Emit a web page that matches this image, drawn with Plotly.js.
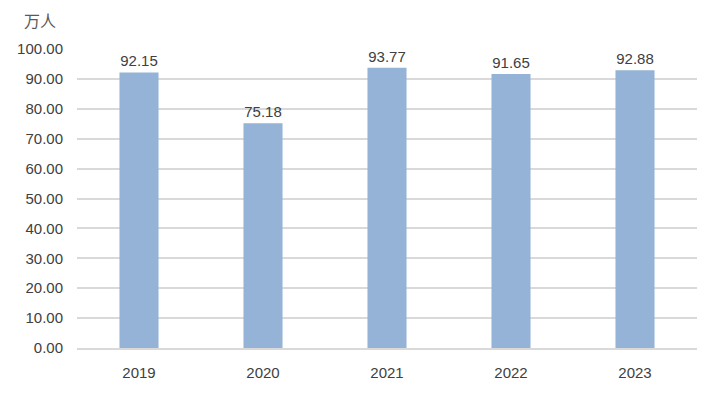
<!DOCTYPE html>
<html><head><meta charset="utf-8">
<script src="https://cdn.plot.ly/plotly-3.0.1.min.js"></script>
<style>body{margin:0;background:#fff}#c{width:720px;height:399px}</style>
</head><body><div id="c"></div>
<script>
const years = ['2019','2020','2021','2022','2023'];
const values = [92.15, 75.18, 93.77, 91.65, 92.88];
const tickVals = [0,10,20,30,40,50,60,70,80,90,100];
const tickText = tickVals.map(v => v.toFixed(2));
const font = {family: 'Liberation Sans, Arial, sans-serif', size: 15, color: '#404040'};
Plotly.newPlot('c', [{
  type: 'bar', x: years, y: values,
  marker: {color: '#95b3d7'},
  width: 0.315,
  text: values.map(v => v.toFixed(2)), textposition: 'outside',
  textfont: font, cliponaxis: false, hoverinfo: 'none'
}], {
  width: 720, height: 399,
  margin: {l: 77, r: 23, t: 49, b: 51},
  paper_bgcolor: '#fff', plot_bgcolor: '#fff',
  font: font,
  showlegend: false,
  xaxis: {type: 'category', showgrid: false, showline: true, linecolor: '#d9d9d9', linewidth: 2, ticks: '', tickfont: font, ticklabelstandoff: 10},
  yaxis: {range: [0, 100], tickvals: tickVals, ticktext: tickText, showgrid: true, gridcolor: '#d9d9d9', gridwidth: 2, zeroline: false, showline: false, ticks: 'outside', ticklen: 10, tickcolor: 'rgba(0,0,0,0)', tickfont: font},
  annotations: [{text: '万人', xref: 'paper', yref: 'paper', x: -0.06, y: 1.097, xanchor: 'center', yanchor: 'middle', showarrow: false, font: {family: 'Noto Sans CJK SC', size: 16, color: '#595959'}}]
}, {displayModeBar: false, staticPlot: true});
</script></body></html>
